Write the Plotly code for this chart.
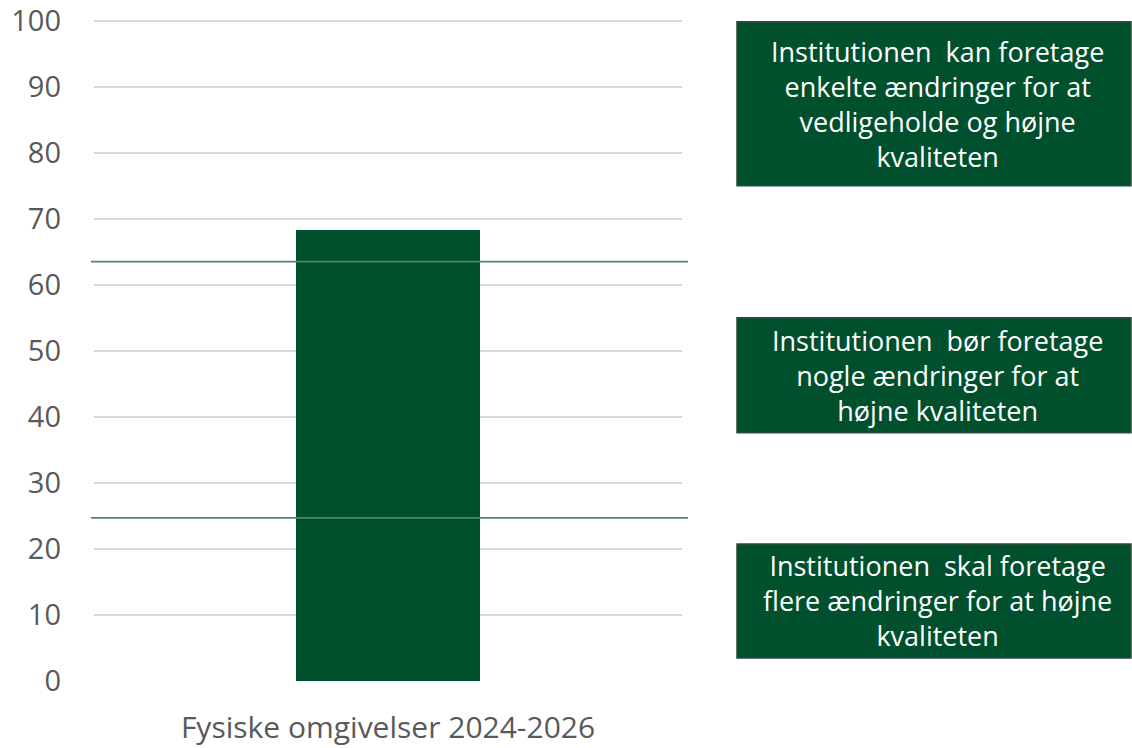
import plotly.graph_objects as go

categories = ["Fysiske omgivelser 2024-2026"]
values = [68.3]
thresholds = [63.5, 24.7]
y_ticks = [0, 10, 20, 30, 40, 50, 60, 70, 80, 90, 100]

box_texts = [
    ["Institutionen  kan foretage", "enkelte ændringer for at", "vedligeholde og højne", "kvaliteten"],
    ["Institutionen  bør foretage", "nogle ændringer for at", "højne kvaliteten"],
    ["Institutionen  skal foretage", "flere ændringer for at højne", "kvaliteten"],
]

W, H = 1132, 748
YMAX = 100.4
L, R, B = 94, 682, 681  # plot area pixels
T = B - 6.6 * YMAX
pw, ph = R - L, B - T

def px(x):
    return (x - L) / pw

def py(y):
    return (B - y) / ph

GREEN = "#00502E"
FONT = "Open Sans"

fig = go.Figure()
fig.add_trace(go.Bar(x=categories, y=values, marker=dict(color=GREEN, line=dict(width=0)),
                     width=0.312, hoverinfo="skip"))

shapes = []
for t in thresholds:
    shapes.append(dict(type="line", xref="paper", yref="y", x0=px(91), x1=px(688), y0=t, y1=t,
                       line=dict(color="#4A8A67", width=1.6), layer="above"))

boxes = [(22, 186), (318, 433), (544, 658)]
annotations = []
for (y0, y1), lines in zip(boxes, box_texts):
    shapes.append(dict(type="rect", xref="paper", yref="paper", x0=px(737), x1=px(1131),
                       y0=py(y1), y1=py(y0), fillcolor=GREEN, line=dict(color="#2E4A38", width=1.5)))
    cy = (y0 + y1) / 2
    annotations.append(dict(text="<br>".join(lines), xref="paper", yref="paper", x=px(937), y=py(cy),
                            xanchor="center", yanchor="middle", align="center", showarrow=False,
                            font=dict(family=FONT, size=27, color="white")))

fig.update_layout(
    width=W, height=H,
    margin=dict(l=L, r=W - R, t=T, b=H - B, pad=0, autoexpand=False),
    paper_bgcolor="white", plot_bgcolor="white",
    showlegend=False,
    shapes=shapes, annotations=annotations,
    font=dict(family=FONT, color="#595959"),
    bargap=0,
    xaxis=dict(showgrid=False, showline=False, zeroline=False, ticks="", ticklabelstandoff=26,
               automargin=False,
               tickfont=dict(size=30, color="#595959"), range=[-0.5, 0.5]),
    yaxis=dict(range=[0, YMAX], tickvals=y_ticks, ticktext=[str(v) for v in y_ticks],
               showgrid=True, gridcolor="#D9D9D9", gridwidth=2, automargin=False,
               zeroline=False, showline=False, ticks="", ticklabelstandoff=32,
               ticklabeloverflow="allow",
               tickfont=dict(size=29, color="#595959")),
)

fig.write_html("out.html", config={"displayModeBar": False},
               post_script="document.body.style.margin='0';document.body.style.overflow='hidden';")
